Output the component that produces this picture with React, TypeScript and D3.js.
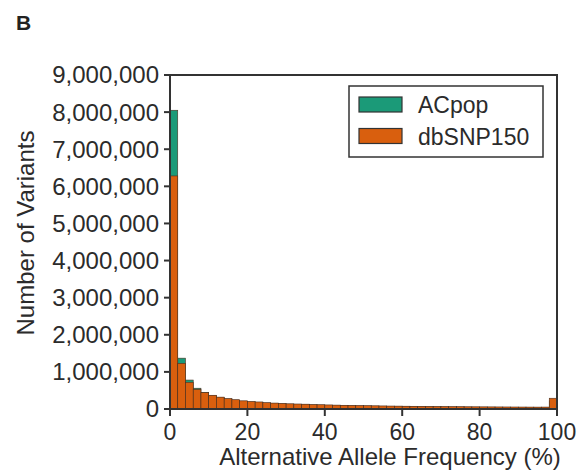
import React from "react";
import * as d3 from "d3";

const binStarts = d3.range(0, 100, 2);
const dbsnpValues = [
  6280000, 1230000, 720000, 530000, 440000, 370000, 320000, 280000, 250000, 220000,
  200000, 190000, 170000, 160000, 150000, 140000, 135000, 130000, 120000, 115000,
  110000, 105000, 100000, 96000, 92000, 89000, 86000, 83000, 80000, 78000,
  75000, 73000, 71000, 69000, 67000, 65000, 63000, 62000, 60000, 59000,
  58000, 57000, 56000, 55000, 54000, 53000, 52000, 51000, 52000, 290000,
];
const acpopValues = [
  8050000, 1370000, 780000, 560000, 450000, 360000, 310000, 270000, 240000, 210000,
  190000, 180000, 160000, 150000, 140000, 130000, 125000, 120000, 110000, 105000,
  100000, 95000, 90000, 86000, 82000, 79000, 76000, 73000, 70000, 68000,
  65000, 63000, 61000, 59000, 57000, 55000, 53000, 52000, 50000, 49000,
  48000, 47000, 46000, 45000, 44000, 43000, 42000, 41000, 42000, 220000,
];
const yTicks = d3.range(0, 9000001, 1000000);
const xTicks = [0, 20, 40, 60, 80, 100];
const seriesNames = ["ACpop", "dbSNP150"];
const colors = ["#1b9a78", "#d95f0e"];

const W = 582, H = 474;
const L = 170, R = 557, T = 75, B = 409;
const FONT = "'Liberation Sans', Arial, sans-serif";
const TXT = "#2b2b2b";
const AX = "#333";

export default function App() {
  const x = d3.scaleLinear().domain([0, 100]).range([L, R]);
  const y = d3.scaleLinear().domain([0, 9000000]).range([B, T]);
  const fmt = d3.format(",");
  const series = [acpopValues, dbsnpValues];
  return (
    <svg width={W} height={H} style={{ position: "absolute", left: 0, top: 0 }}>
      <rect width={W} height={H} fill="#fff" />
      <text x={16} y={30} fontFamily={FONT} fontWeight="bold" fontSize={21} fill="#222">B</text>
      {series.map((vals, si) => (
        <g key={si}>
          {binStarts.map((s, i) => (
            <rect key={i} x={x(s)} y={y(vals[i])} width={x(s + 2) - x(s)} height={y(0) - y(vals[i])}
              fill={colors[si]} stroke="#4a3020" strokeWidth={0.6} />
          ))}
        </g>
      ))}
      <rect x={L} y={T} width={R - L} height={B - T} fill="none" stroke={AX} strokeWidth={2} />
      {yTicks.map((t) => (
        <g key={t}>
          <line x1={L - 6} x2={L} y1={y(t)} y2={y(t)} stroke={AX} strokeWidth={2} />
          <text x={L - 11} y={y(t)} dy="0.35em" textAnchor="end" fontFamily={FONT} fontSize={24} fill={TXT}>{fmt(t)}</text>
        </g>
      ))}
      {xTicks.map((t) => (
        <g key={t}>
          <line x1={x(t)} x2={x(t)} y1={B} y2={B + 7} stroke={AX} strokeWidth={2} />
          <text x={x(t)} y={B + 31} textAnchor="middle" fontFamily={FONT} fontSize={23} fill={TXT}>{t}</text>
        </g>
      ))}
      <text x={390} y={465} textAnchor="middle" fontFamily={FONT} fontSize={24} fill={TXT}>Alternative Allele Frequency (%)</text>
      <text transform={`translate(34,${233}) rotate(-90)`} textAnchor="middle" fontFamily={FONT} fontSize={24} fill={TXT}>Number of Variants</text>
      <rect x={349} y={86} width={194} height={71} fill="#fff" stroke={AX} strokeWidth={1.5} />
      {seriesNames.map((n, i) => (
        <g key={n}>
          <rect x={359} y={97 + i * 31.5} width={43} height={15} fill={colors[i]} stroke="#333" strokeWidth={1.2} />
          <text x={418} y={105 + i * 31.5} dy="0.35em" fontFamily={FONT} fontSize={23} fill={TXT}>{n}</text>
        </g>
      ))}
    </svg>
  );
}
